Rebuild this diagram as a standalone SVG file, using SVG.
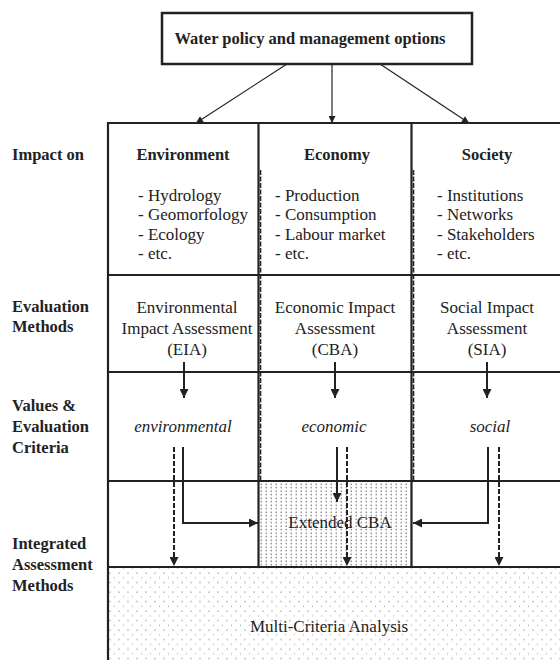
<svg xmlns="http://www.w3.org/2000/svg" width="560" height="660" viewBox="0 0 560 660">
<defs>
<style>
text{font-family:"Liberation Serif","DejaVu Serif",serif}
.lbl{font-weight:bold;font-size:16.5px;fill:#222}
.hd{font-weight:bold;font-size:16.5px;fill:#222;text-anchor:middle}
.tx{font-size:17px;fill:#222}
.txc{font-size:17px;fill:#222;text-anchor:middle}
.it{font-size:17px;font-style:italic;fill:#222;text-anchor:middle}
.grid{stroke:#222;stroke-width:2.2;fill:none}
.div{stroke:#222;stroke-width:1.6;fill:none;stroke-dasharray:5 1.5}
.con{stroke:#222;stroke-width:2;fill:none}
.thin{stroke:#222;stroke-width:1.2;fill:none}
.dash{stroke:#222;stroke-width:2;fill:none;stroke-dasharray:5 2}
</style>
<pattern id="dense" x="0" y="0" width="5" height="3.5" patternUnits="userSpaceOnUse">
<circle cx="1.2" cy="1.2" r="0.75" fill="#6a6a6a"/>
</pattern>
<pattern id="sparse" x="0" y="0" width="9" height="9.5" patternUnits="userSpaceOnUse">
<circle cx="2" cy="3" r="0.7" fill="#8a8a8a"/>
<circle cx="6.5" cy="7.7" r="0.6" fill="#9a9a9a"/>
</pattern>
<marker id="ah" viewBox="0 0 10 10" refX="10" refY="5" markerWidth="10" markerHeight="9" markerUnits="userSpaceOnUse" orient="auto">
<path d="M0,0 L10,5 L0,10 z" fill="#222"/>
</marker>
<marker id="ahs" viewBox="0 0 10 10" refX="10" refY="5" markerWidth="8" markerHeight="7" markerUnits="userSpaceOnUse" orient="auto">
<path d="M0,0 L10,5 L0,10 z" fill="#222"/>
</marker>
</defs>
<rect width="560" height="660" fill="#fff"/>

<g id="fills">
<rect x="259" y="481" width="153" height="86" fill="url(#dense)"/>
<rect x="108" y="567" width="452" height="93" fill="url(#sparse)"/>
</g>

<g id="top-node">
<rect x="162" y="13" width="310" height="51" fill="#fff" stroke="#222" stroke-width="2.5"/>
<text class="hd" x="310" y="44" font-size="16">Water policy and management options</text>
</g>

<g id="grid">
<line class="grid" x1="108" y1="123" x2="560" y2="123"/>
<line class="grid" x1="108" y1="275" x2="560" y2="275"/>
<line class="grid" x1="108" y1="372" x2="560" y2="372"/>
<line class="grid" x1="108" y1="481" x2="560" y2="481"/>
<line class="grid" x1="108" y1="567" x2="560" y2="567"/>
<line class="grid" x1="108" y1="122" x2="108" y2="660"/>
<line class="grid" x1="258.5" y1="123" x2="258.5" y2="567"/>
<line class="div" x1="260.5" y1="170" x2="260.5" y2="481"/>
<line class="grid" x1="411.5" y1="123" x2="411.5" y2="567"/>
<line class="div" x1="413.5" y1="170" x2="413.5" y2="481"/>
</g>

<g id="row-labels">
<text class="lbl" x="12" y="160">Impact on</text>
<text class="lbl" x="12" y="312">Evaluation</text>
<text class="lbl" x="12" y="332">Methods</text>
<text class="lbl" x="12" y="411">Values &amp;</text>
<text class="lbl" x="12" y="432">Evaluation</text>
<text class="lbl" x="12" y="453">Criteria</text>
<text class="lbl" x="12" y="549">Integrated</text>
<text class="lbl" x="12" y="570">Assessment</text>
<text class="lbl" x="12" y="591">Methods</text>
</g>

<g id="environment">
<text class="hd" x="183" y="160">Environment</text>
<text class="tx" x="138" y="201">- Hydrology</text>
<text class="tx" x="138" y="220">- Geomorfology</text>
<text class="tx" x="138" y="240">- Ecology</text>
<text class="tx" x="138" y="259">- etc.</text>
</g>
<g id="economy">
<text class="hd" x="337" y="160">Economy</text>
<text class="tx" x="275" y="201">- Production</text>
<text class="tx" x="275" y="220">- Consumption</text>
<text class="tx" x="275" y="240">- Labour market</text>
<text class="tx" x="275" y="259">- etc.</text>
</g>
<g id="society">
<text class="hd" x="487" y="160">Society</text>
<text class="tx" x="437" y="201">- Institutions</text>
<text class="tx" x="437" y="220">- Networks</text>
<text class="tx" x="437" y="240">- Stakeholders</text>
<text class="tx" x="437" y="259">- etc.</text>
</g>

<g id="eia">
<text class="txc" x="187" y="313">Environmental</text>
<text class="txc" x="187" y="334">Impact Assessment</text>
<text class="txc" x="187" y="355">(EIA)</text>
</g>
<g id="cba">
<text class="txc" x="335" y="313">Economic Impact</text>
<text class="txc" x="335" y="334">Assessment</text>
<text class="txc" x="335" y="355">(CBA)</text>
</g>
<g id="sia">
<text class="txc" x="487" y="313">Social Impact</text>
<text class="txc" x="487" y="334">Assessment</text>
<text class="txc" x="487" y="355">(SIA)</text>
</g>

<g id="values">
<text class="it" x="183" y="432">environmental</text>
<text class="it" x="334" y="432">economic</text>
<text class="it" x="490" y="432">social</text>
</g>

<g id="extended-cba">
<text class="txc" x="340" y="528" fill="#333">Extended CBA</text>
</g>
<g id="mca">
<text class="txc" x="329" y="632" fill="#333">Multi-Criteria Analysis</text>
</g>

<g id="connectors">
<line class="thin" x1="287" y1="64" x2="196" y2="123" marker-end="url(#ahs)"/>
<line class="thin" x1="332" y1="64" x2="332" y2="123" marker-end="url(#ahs)"/>
<line class="thin" x1="380" y1="64" x2="469" y2="123" marker-end="url(#ahs)"/>
<line class="con" x1="184" y1="362" x2="184" y2="398" marker-end="url(#ah)"/>
<line class="con" x1="335" y1="362" x2="335" y2="398" marker-end="url(#ah)"/>
<line class="con" x1="487" y1="362" x2="487" y2="398" marker-end="url(#ah)"/>
<path class="con" d="M183,447 V523 H258" marker-end="url(#ah)"/>
<line class="dash" x1="174" y1="447" x2="174" y2="566" marker-end="url(#ah)"/>
<line class="con" x1="337" y1="447" x2="337" y2="502" marker-end="url(#ah)"/>
<line class="dash" x1="347" y1="447" x2="347" y2="566" marker-end="url(#ah)"/>
<path class="con" d="M488,447 V523 H413" marker-end="url(#ah)"/>
<line class="dash" x1="499" y1="447" x2="499" y2="566" marker-end="url(#ah)"/>
</g>
</svg>
